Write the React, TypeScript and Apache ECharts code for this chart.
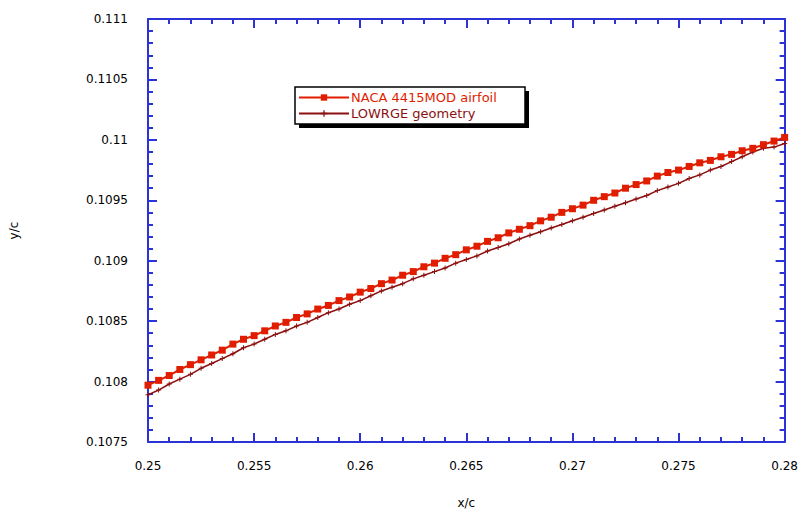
import React, { useEffect, useRef } from "react";
import * as echarts from "echarts";

const xValues: number[] = [
  0.25, 0.2505, 0.251, 0.2515, 0.252, 0.2525, 0.253, 0.2535, 0.254, 0.2545,
  0.255, 0.2555, 0.256, 0.2565, 0.257, 0.2575, 0.258, 0.2585, 0.259, 0.2595,
  0.26, 0.2605, 0.261, 0.2615, 0.262, 0.2625, 0.263, 0.2635, 0.264, 0.2645,
  0.265, 0.2655, 0.266, 0.2665, 0.267, 0.2675, 0.268, 0.2685, 0.269, 0.2695,
  0.27, 0.2705, 0.271, 0.2715, 0.272, 0.2725, 0.273, 0.2735, 0.274, 0.2745,
  0.275, 0.2755, 0.276, 0.2765, 0.277, 0.2775, 0.278, 0.2785, 0.279, 0.2795,
  0.28,
];

const nacaValues: number[] = [
  0.10797, 0.10801, 0.10805, 0.1081, 0.10814, 0.10818, 0.10822, 0.10826, 0.10831, 0.10835,
  0.10838, 0.10842, 0.10846, 0.10849, 0.10853, 0.10856, 0.1086, 0.10863, 0.10867, 0.1087,
  0.10874, 0.10877, 0.10881, 0.10884, 0.10888, 0.10891, 0.10895, 0.10898, 0.10902, 0.10905,
  0.10909, 0.10912, 0.10916, 0.10919, 0.10923, 0.10926, 0.10929, 0.10933, 0.10936, 0.1094,
  0.10943, 0.10946, 0.1095, 0.10953, 0.10956, 0.1096, 0.10963, 0.10966, 0.1097, 0.10973,
  0.10975, 0.10978, 0.10981, 0.10983, 0.10986, 0.10988, 0.10991, 0.10993, 0.10996, 0.10999,
  0.11002,
];

const lowrgeValues: number[] = [
  0.10789, 0.10793, 0.10798, 0.10802, 0.10806, 0.10811, 0.10815, 0.10819, 0.10823, 0.10828,
  0.10831, 0.10835, 0.10839, 0.10842, 0.10846, 0.10849, 0.10853, 0.10857, 0.1086, 0.10864,
  0.10867, 0.10871, 0.10875, 0.10878, 0.10881, 0.10885, 0.10888, 0.10891, 0.10894, 0.10898,
  0.10901, 0.10904, 0.10908, 0.10911, 0.10914, 0.10918, 0.10921, 0.10924, 0.10927, 0.1093,
  0.10933, 0.10936, 0.10939, 0.10942, 0.10945, 0.10948, 0.10951, 0.10954, 0.10958, 0.10961,
  0.10964, 0.10968, 0.10971, 0.10975, 0.10978, 0.10982, 0.10986, 0.1099, 0.10993, 0.10994,
  0.10997,
];

const seriesNames: string[] = ["NACA 4415MOD airfoil", "LOWRGE geometry"];
const xAxisName = "x/c";
const yAxisName = "y/c";

const AXIS_COLOR = "#2b32d6";
const RED = "#e11d00";
const DARK = "#8c1010";
const FONT = "DejaVu Sans";

const fmt = (v: number) => String(parseFloat(v.toFixed(6)));

export default function App() {
  const ref = useRef<HTMLDivElement>(null);

  useEffect(() => {
    if (!ref.current) return;
    const chart = echarts.init(ref.current, undefined, { renderer: "svg" });

    const axisCommon = {
      axisLine: { show: true, onZero: false, lineStyle: { color: AXIS_COLOR, width: 2 } },
      axisTick: { show: true, inside: true, length: 9, lineStyle: { color: AXIS_COLOR, width: 2 } },
      minorTick: { show: true, splitNumber: 5, length: 5, lineStyle: { color: AXIS_COLOR, width: 2 } },
      splitLine: { show: false },
      minorSplitLine: { show: false },
    };

    const xCommon = { type: "value" as const, min: 0.25, max: 0.28, interval: 0.005, ...axisCommon };
    const yCommon = { type: "value" as const, min: 0.1075, max: 0.111, interval: 0.0005, ...axisCommon };

    const plusPath = "path://M3.2,0L4.8,0L4.8,8L3.2,8ZM0,3.2L8,3.2L8,4.8L0,4.8Z";

    chart.setOption({
      animation: false,
      backgroundColor: "#ffffff",
      grid: { left: 148, right: 15, top: 19, bottom: 70, containLabel: false },
      graphic: [
        { type: "rect", z: 1, shape: { x: 299, y: 91, width: 230, height: 37 }, style: { fill: "#000000" } },
        {
          type: "rect",
          z: 2,
          shape: { x: 295, y: 87, width: 230, height: 37 },
          style: { fill: "#ffffff", stroke: "#000000", lineWidth: 1.5 },
        },
      ],
      legend: {
        orient: "vertical",
        left: 296,
        top: 88,
        z: 5,
        itemWidth: 50,
        itemHeight: 8,
        itemGap: 3,
        padding: [3, 6, 3, 2],
        textStyle: { fontFamily: FONT, fontSize: 13, padding: [0, 0, 0, -3] },
        data: [
          { name: seriesNames[0], textStyle: { color: RED } },
          { name: seriesNames[1], textStyle: { color: DARK } },
        ],
      },
      xAxis: [
        {
          ...xCommon,
          position: "bottom",
          name: xAxisName,
          nameLocation: "middle",
          nameGap: 55,
          nameTextStyle: { color: "#000", fontFamily: FONT, fontSize: 12 },
          axisLabel: { show: true, color: "#000", fontFamily: FONT, fontSize: 12, margin: 18, formatter: fmt },
        },
        {
          ...xCommon,
          position: "top",
          axisLabel: { show: false },
        },
      ],
      yAxis: [
        {
          ...yCommon,
          position: "left",
          name: yAxisName,
          nameLocation: "middle",
          nameGap: 128,
          nameRotate: 90,
          nameTextStyle: { color: "#000", fontFamily: FONT, fontSize: 12 },
          axisLabel: { show: true, color: "#000", fontFamily: FONT, fontSize: 12, margin: 20, formatter: fmt },
        },
        {
          ...yCommon,
          position: "right",
          axisLabel: { show: false },
        },
      ],
      series: [
        {
          name: seriesNames[0],
          type: "line",
          xAxisIndex: 0,
          yAxisIndex: 0,
          data: xValues.map((x, i) => [x, nacaValues[i]]),
          symbol: "rect",
          symbolSize: 7,
          showAllSymbol: true,
          itemStyle: { color: RED },
          lineStyle: { color: RED, width: 2 },
          z: 3,
        },
        {
          name: seriesNames[1],
          type: "line",
          xAxisIndex: 0,
          yAxisIndex: 0,
          data: xValues.map((x, i) => [x, lowrgeValues[i]]),
          symbol: plusPath,
          symbolSize: 5,
          showAllSymbol: true,
          itemStyle: { color: DARK },
          lineStyle: { color: DARK, width: 1.5 },
          z: 2,
        },
      ],
    });

    return () => chart.dispose();
  }, []);

  return (
    <div
      ref={ref}
      style={{ position: "fixed", left: 0, top: 0, width: 801, height: 514, background: "#fff" }}
    />
  );
}
